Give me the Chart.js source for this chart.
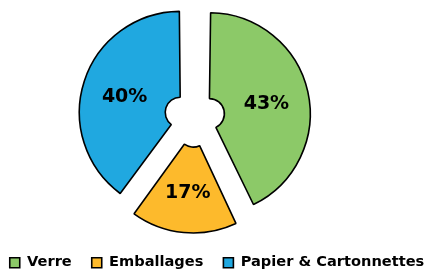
<!DOCTYPE html>
<html>
  <head>
    <meta charset="utf-8" />
    <script src="https://cdn.jsdelivr.net/npm/chart.js"></script>
    <title>Recyclage</title>
    <style>
      html, body { margin: 0; padding: 0; background: #fff; }
      #wrap { width: 426px; height: 273px; }
    </style>
  </head>
  <body>
    <div id="wrap"><canvas id="pie"></canvas></div>

    <script>
      // données
      var categories = ["Verre", "Emballages", "Papier & Cartonnettes"];
      var values = [43, 17, 40];
      var colors = ["#8cc968", "#fdba2c", "#20a8e0"];

      // chart.js agrandit chaque part décalée (offset/4 * (1 - sin(angle)))
      // on ramène toutes les parts au même rayon
      var sameRadius = {
        id: "sameRadius",
        afterDatasetsUpdate: function (chart) {
          var meta = chart.getDatasetMeta(0);
          var ctrl = meta.controller;
          meta.data.forEach(function (arc) {
            var off = arc.options.offset / 4;
            var fix = 1 - Math.sin(Math.min(Math.PI, arc.circumference));
            arc.outerRadius = ctrl.outerRadius - off * fix;
            arc.innerRadius = Math.max(ctrl.innerRadius - off * fix, 0.5);
          });
        },
      };

      // étiquettes en % au milieu des parts
      var pctLabels = {
        id: "pctLabels",
        afterDatasetsDraw: function (chart) {
          var ctx = chart.ctx;
          var meta = chart.getDatasetMeta(0);
          var ctrl = meta.controller;
          ctx.save();
          ctx.font = "bold 19px 'DejaVu Sans'";
          ctx.fillStyle = "#000";
          ctx.textAlign = "center";
          ctx.textBaseline = "middle";
          meta.data.forEach(function (arc, i) {
            var mid = (arc.startAngle + arc.endAngle) / 2;
            var r = arc.options.offset / 4 + ctrl.outerRadius * 0.58;
            ctx.fillText(values[i] + "%", arc.x + Math.cos(mid) * r, arc.y + Math.sin(mid) * r + 3);
          });
          ctx.restore();
        },
      };

      // place le centre du camembert (zone du graphique)
      var placePie = {
        id: "placePie",
        afterLayout: function (chart) {
          var a = chart.chartArea;
          a.left = 0;
          a.right = 389.2;
          a.top = 16;
          a.bottom = 218;
          a.width = a.right - a.left;
          a.height = a.bottom - a.top;
        },
      };

      new Chart(document.getElementById("pie"), {
        type: "doughnut",
        data: {
          labels: categories,
          datasets: [
            {
              data: values,
              backgroundColor: colors,
              borderColor: "#000",
              borderWidth: 1.6,
              offset: 60,
            },
          ],
        },
        options: {
          responsive: true,
          maintainAspectRatio: false,
          animation: false,
          radius: 101,
          cutout: "15%",
          layout: { padding: { left: -16, right: -24, top: 0, bottom: -7 } },
          plugins: {
            tooltip: { enabled: false },
            legend: {
              position: "bottom",
              labels: {
                boxWidth: 10,
                boxHeight: 10,
                padding: 20,
                color: "#000",
                font: { family: "'DejaVu Sans'", size: 14.6, weight: "bold" },
              },
            },
          },
        },
        plugins: [sameRadius, pctLabels, placePie],
      });
    </script>
  </body>
</html>
